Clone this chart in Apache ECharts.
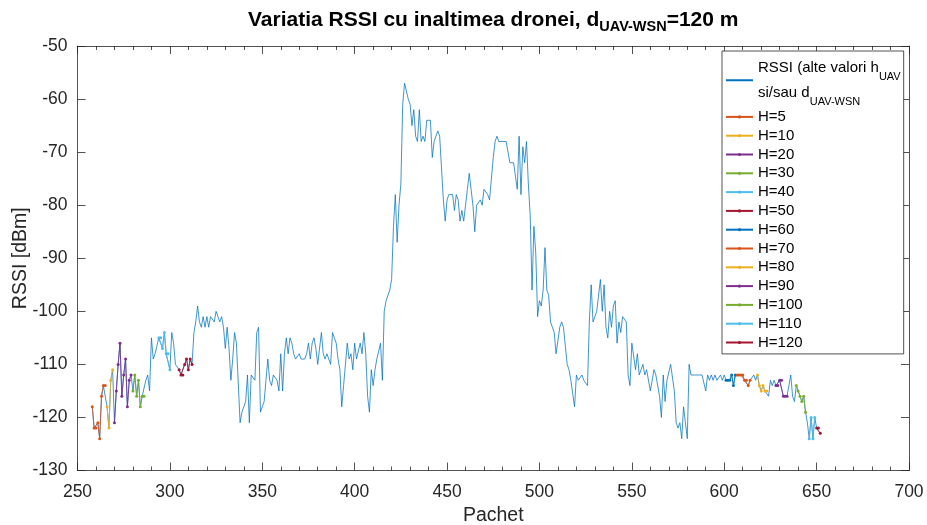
<!DOCTYPE html>
<html><head><meta charset="utf-8">
<script src="https://cdn.jsdelivr.net/npm/echarts@6/dist/echarts.min.js"></script>
<style>html,body{margin:0;padding:0;background:#fff}#c{width:927px;height:525px}</style>
</head><body><div id="c"></div>
<script>
// ---- data ----
const firstPacket = 258;
const rssi = [
-118,-122,-122,-121,-124,-116,-114,-114,-118,-122,
-113,-111,-121,-115,-110,-106,-116,-112,-109,-118,
-113,-112,-115,-112,-116,-113,-118,-116,-116,-113,
-112,-115,-105,-109,-108,-108,-105,-105,-107,-104,
-108,-108,-111,-104,-106,-110,-110,-111,-112,-112,
-110,-109,-111,-109,-110,-104,-102,-99,-102,-103,
-101,-103,-101,-103,-101,-101,-102,-100,-101,-102,
-101,-103,-107,-103,-107,-113,-109,-104,-106,-106,
-121,-119,-118,-117,-112,-121,-112,-112,-113,-104,
-103,-119,-118,-117,-113,-109,-113,-114,-112,-112,
-113,-115,-108,-115,-108,-105,-108,-105,-106,-108,
-109,-109,-108,-109,-109,-109,-108,-106,-109,-106,
-105,-107,-110,-110,-104,-108,-109,-108,-108,-110,
-104,-105,-106,-109,-111,-118,-114,-110,-106,-109,
-108,-111,-106,-109,-109,-106,-108,-104,-108,-116,
-119,-111,-114,-111,-109,-109,-106,-113,-100,-98,
-98,-96,-94,-84,-78,-87,-80,-76,-61,-57,
-57,-60,-61,-65,-62,-67,-68,-62,-68,-67,
-68,-64,-64,-64,-71,-68,-67,-66,-67,-73,
-79,-83,-79,-78,-78,-78,-81,-78,-79,-83,
-81,-83,-80,-77,-74,-77,-80,-85,-80,-80,
-79,-80,-77,-77,-78,-79,-79,-71,-68,-67,
-68,-68,-68,-68,-68,-68,-72,-72,-72,-72,
-77,-67,-78,-69,-72,-68,-76,-82,-96,-84,
-89,-101,-98,-99,-96,-88,-96,-97,-102,-103,
-104,-108,-108,-103,-102,-103,-103,-110,-111,-113,
-113,-118,-112,-113,-113,-112,-113,-113,-114,-102,
-95,-102,-101,-100,-100,-94,-100,-95,-103,-105,
-100,-103,-99,-98,-106,-102,-104,-101,-101,-102,
-112,-114,-106,-106,-111,-108,-112,-111,-110,-112,
-111,-111,-115,-115,-111,-112,-112,-116,-120,-112,
-117,-113,-113,-110,-110,-115,-121,-122,-121,-124,
-118,-121,-124,-110,-112,-112,-112,-112,-112,-112,
-112,-112,-115,-112,-113,-112,-113,-112,-113,-113,
-112,-113,-112,-113,-113,-113,-112,-114,-112,-112,
-112,-112,-112,-113,-113,-114,-113,-113,-112,-113,
-112,-114,-115,-114,-115,-115,-116,-113,-114,-113,
-114,-114,-113,-113,-116,-116,-116,-116,-112,-116,
-117,-114,-115,-116,-117,-116,-119,-121,-124,-120,
-124,-120,-122,-122,-123
];
const rssiName = 'RSSI (alte valori h_UAV si/sau d_UAV-WSN';
const hNames = ['H=5','H=10','H=20','H=30','H=40','H=50','H=60','H=70','H=80','H=90','H=100','H=110','H=120'];
const hStart = [258,266,270,280,294,305,601,607,618,628,639,646,650];
const hEnd   = [265,269,279,286,300,312,606,614,623,634,644,649,652];
const xMin = 250, xMax = 700, xStep = 50;
const yMin = -130, yMax = -50, yStep = 10;

// ---- style ----
const FONT = '"Liberation Sans", Arial, Helvetica, sans-serif';
const AX = '#262626';
const palette = ['#D95319','#EDB120','#7E2F8E','#77AC30','#4DBEEE','#A2142F','#0072BD'];

const pts = rssi.map((v, i) => [firstPacket + i, v]);

function axisCommon() {
  return {
    axisLine: { show: true, onZero: false, lineStyle: { color: AX, width: 0.8 } },
    axisTick: { show: true, inside: true, length: 8, lineStyle: { color: AX, width: 0.8 } },
    splitLine: { show: false },
    axisLabel: { color: AX, fontSize: 17.5, fontFamily: FONT },
  };
}

const xBottom = Object.assign(axisCommon(), {
  type: 'value', min: xMin, max: xMax, interval: xStep, position: 'bottom',
  minorTick: { show: true, splitNumber: 5, length: 4, lineStyle: { color: AX, width: 0.8 } },
  name: 'Pachet', nameLocation: 'middle', nameGap: 35, nameMoveOverlap: false,
  nameTextStyle: { color: AX, fontSize: 19.5, fontFamily: FONT }
});
xBottom.axisLabel.margin = 12.5;
const xTop = Object.assign(axisCommon(), {
  type: 'value', min: xMin, max: xMax, interval: xStep, position: 'top',
  minorTick: { show: true, splitNumber: 5, length: 4, lineStyle: { color: AX, width: 0.8 } }
});
xTop.axisLabel = { show: false };
const yLeft = Object.assign(axisCommon(), {
  type: 'value', min: yMin, max: yMax, interval: yStep, position: 'left',
  name: 'RSSI [dBm]', nameLocation: 'middle', nameGap: 47, nameMoveOverlap: false,
  nameTextStyle: { color: AX, fontSize: 19.5, fontFamily: FONT }
});
yLeft.axisLabel.margin = 10;
const yRight = Object.assign(axisCommon(), {
  type: 'value', min: yMin, max: yMax, interval: yStep, position: 'right'
});
yRight.axisLabel = { show: false };

const series = [{
  name: rssiName, type: 'line', data: pts, symbol: 'none',
  lineStyle: { width: 0.75, color: '#0072BD' }, itemStyle: { color: '#0072BD' }, z: 2
}].concat(hNames.map((n, k) => {
  const c = palette[k % palette.length];
  return {
    name: n, type: 'line',
    data: pts.slice(hStart[k] - firstPacket, hEnd[k] - firstPacket + 1),
    symbol: 'circle', symbolSize: 3, showAllSymbol: true,
    lineStyle: { width: 0.8, color: c }, itemStyle: { color: c }, z: 3
  };
}));

const chart = echarts.init(document.getElementById('c'), null, { renderer: 'canvas' });
chart.setOption({
  animation: false,
  backgroundColor: '#fff',
  title: {
    text: '{m|Variatia RSSI cu inaltimea dronei, d}{s|UAV-WSN}{m|=120 m}',
    left: 248, top: 7, padding: 0,
    textStyle: {
      rich: {
        m: { fontSize: 21, fontWeight: 'bold', color: '#000', fontFamily: FONT, lineHeight: 26 },
        s: { fontSize: 14.5, fontWeight: 'bold', color: '#000', fontFamily: FONT, lineHeight: 26, padding: [14, 0, 0, 0] }
      }
    }
  },
  grid: { left: 77.5, right: 18, top: 46, bottom: 54.5, containLabel: false, outerBoundsMode: 'none' },
  xAxis: [xBottom, xTop],
  yAxis: [yLeft, yRight],
  legend: {
    orient: 'vertical', left: 722, top: 51,
    itemWidth: 27, itemHeight: 4, itemGap: 0,
    padding: [2, 3, 2, 3],
    borderColor: AX, borderWidth: 0.8, backgroundColor: '#fff',
    selectedMode: false,
    data: [{ name: rssiName, itemStyle: { opacity: 0 } }].concat(hNames),
    formatter: function (name) {
      if (name === rssiName) return '{a|RSSI (alte valori h}{s|UAV}\n{a|si/sau d}{s|UAV-WSN}';
      return name;
    },
    textStyle: {
      fontSize: 15, lineHeight: 18.8, color: '#000', fontFamily: FONT,
      rich: {
        a: { fontSize: 15, lineHeight: 25.5, color: '#000', fontFamily: FONT },
        s: { fontSize: 11, lineHeight: 25.5, color: '#000', fontFamily: FONT, padding: [18, 0, 0, 0] }
      }
    }
  },
  series: series
});
</script></body></html>
